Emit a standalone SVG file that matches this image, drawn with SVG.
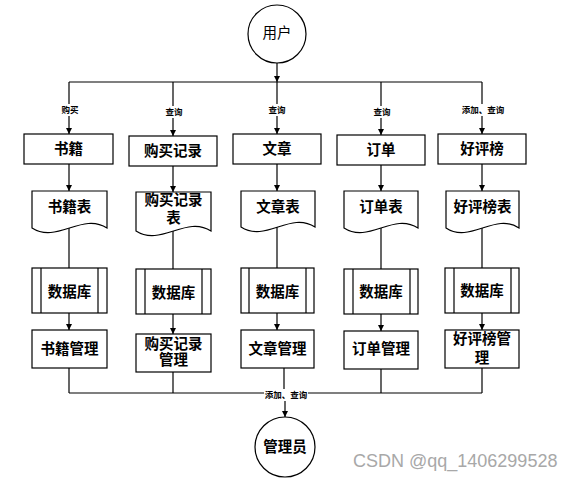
<svg xmlns="http://www.w3.org/2000/svg" width="579" height="480" viewBox="0 0 579 480">
<style>
.s{fill:#fff;stroke:#000;stroke-width:1.2}
.ln{fill:none;stroke:#000;stroke-width:1.2}
.t{font-family:"Liberation Sans","Noto Sans CJK SC",sans-serif;font-size:14.5px;font-weight:bold;fill:#000;text-anchor:middle;dominant-baseline:central}
.tn{font-weight:normal}
.lb{font-family:"Liberation Sans","Noto Sans CJK SC",sans-serif;font-size:8.5px;font-weight:bold;fill:#000;text-anchor:middle;dominant-baseline:central}
.bg{fill:#fff}
</style>
<defs>
<marker id="ah" markerUnits="userSpaceOnUse" markerWidth="7" markerHeight="7" refX="6" refY="3" orient="auto">
<path d="M0,0 L6,3 L0,6 Z" fill="#000"/>
</marker>
</defs>

<g id="connectors">
<!-- user to bus -->
<line class="ln" x1="277" y1="63" x2="277" y2="82" marker-end="url(#ah)"/>
<line class="ln" x1="69" y1="82" x2="482" y2="82"/>
<line class="ln" x1="69" y1="82" x2="69" y2="134" marker-end="url(#ah)"/>
<line class="ln" x1="173" y1="82" x2="173" y2="136" marker-end="url(#ah)"/>
<line class="ln" x1="277" y1="82" x2="277" y2="134" marker-end="url(#ah)"/>
<line class="ln" x1="381" y1="82" x2="381" y2="135" marker-end="url(#ah)"/>
<line class="ln" x1="482" y1="82" x2="482" y2="134" marker-end="url(#ah)"/>
<!-- box to doc -->
<line class="ln" x1="69" y1="164" x2="69" y2="191" marker-end="url(#ah)"/>
<line class="ln" x1="173" y1="166" x2="173" y2="192" marker-end="url(#ah)"/>
<line class="ln" x1="277" y1="164" x2="277" y2="191" marker-end="url(#ah)"/>
<line class="ln" x1="381" y1="165" x2="381" y2="191" marker-end="url(#ah)"/>
<line class="ln" x1="482" y1="164" x2="482" y2="191" marker-end="url(#ah)"/>
<!-- doc to db -->
<line class="ln" x1="69" y1="228" x2="69" y2="268"/>
<line class="ln" x1="173" y1="231" x2="173" y2="269"/>
<line class="ln" x1="277" y1="227" x2="277" y2="268"/>
<line class="ln" x1="381" y1="228" x2="381" y2="269"/>
<line class="ln" x1="482" y1="228" x2="482" y2="268"/>
<!-- db to mgmt -->
<line class="ln" x1="69" y1="313" x2="69" y2="330" marker-end="url(#ah)"/>
<line class="ln" x1="173" y1="314" x2="173" y2="334" marker-end="url(#ah)"/>
<line class="ln" x1="277" y1="313" x2="277" y2="330" marker-end="url(#ah)"/>
<line class="ln" x1="381" y1="314" x2="381" y2="331" marker-end="url(#ah)"/>
<line class="ln" x1="482" y1="313" x2="482" y2="330" marker-end="url(#ah)"/>
<!-- mgmt to bottom bus -->
<line class="ln" x1="69" y1="368" x2="69" y2="393"/>
<line class="ln" x1="173" y1="372" x2="173" y2="393"/>
<line class="ln" x1="284" y1="368" x2="284" y2="393"/>
<line class="ln" x1="381" y1="369" x2="381" y2="393"/>
<line class="ln" x1="482" y1="368" x2="482" y2="393"/>
<line class="ln" x1="69" y1="393" x2="482" y2="393"/>
<line class="ln" x1="285" y1="393" x2="285" y2="417" marker-end="url(#ah)"/>
<!-- labels -->
<rect class="bg" x="58" y="104" width="22" height="12"/>
<text class="lb" x="70" y="110">购买</text>
<rect class="bg" x="162" y="106" width="22" height="12"/>
<text class="lb" x="174" y="112">查询</text>
<rect class="bg" x="266" y="104" width="22" height="12"/>
<text class="lb" x="277" y="110">查询</text>
<rect class="bg" x="370" y="106" width="22" height="12"/>
<text class="lb" x="382" y="112">查询</text>
<rect class="bg" x="461" y="104" width="44" height="12"/>
<text class="lb" x="483" y="110">添加、查询</text>
<rect class="bg" x="264" y="389" width="44" height="12"/>
<text class="lb" x="286" y="395">添加、查询</text>
</g>

<g id="user">
<circle class="s" cx="277" cy="34" r="29"/>
<text class="t tn" x="277" y="33">用户</text>
</g>

<g id="admin">
<circle class="s" cx="285" cy="447" r="30"/>
<text class="t" x="285" y="447">管理员</text>
</g>

<g id="books">
<rect class="s" x="24" y="134" width="89" height="30"/>
<text class="t" x="68.5" y="149">书籍</text>
</g>
<g id="purchase">
<rect class="s" x="129" y="136" width="88" height="30"/>
<text class="t" x="173" y="151">购买记录</text>
</g>
<g id="article">
<rect class="s" x="233" y="134" width="88" height="30"/>
<text class="t" x="277" y="149">文章</text>
</g>
<g id="order">
<rect class="s" x="337" y="135" width="88" height="30"/>
<text class="t" x="381" y="150">订单</text>
</g>
<g id="rating">
<rect class="s" x="438" y="134" width="88" height="30"/>
<text class="t" x="482" y="149">好评榜</text>
</g>

<g id="books-table">
<path class="s" d="M32,191 H107 V228 C82,212 57,244 32,228 Z"/>
<text class="t" x="69.5" y="207">书籍表</text>
</g>
<g id="purchase-table">
<path class="s" d="M136,192 H211 V231 C186,215 161,247 136,231 Z"/>
<text class="t" x="173.5" y="200">购买记录</text>
<text class="t" x="173.5" y="218">表</text>
</g>
<g id="article-table">
<path class="s" d="M241,191 H315 V227 C290,211 266,243 241,227 Z"/>
<text class="t" x="278" y="207">文章表</text>
</g>
<g id="order-table">
<path class="s" d="M344,191 H418 V228 C393,212 369,244 344,228 Z"/>
<text class="t" x="381" y="207">订单表</text>
</g>
<g id="rating-table">
<path class="s" d="M446,191 H519 V228 C495,212 470,244 446,228 Z"/>
<text class="t" x="482.5" y="207">好评榜表</text>
</g>

<g id="db1">
<rect class="s" x="32" y="268" width="75" height="45"/>
<line class="ln" x1="41" y1="268" x2="41" y2="313"/>
<line class="ln" x1="98" y1="268" x2="98" y2="313"/>
<text class="t" x="69.5" y="292">数据库</text>
</g>
<g id="db2">
<rect class="s" x="136" y="269" width="75" height="45"/>
<line class="ln" x1="145" y1="269" x2="145" y2="314"/>
<line class="ln" x1="202" y1="269" x2="202" y2="314"/>
<text class="t" x="173.5" y="293">数据库</text>
</g>
<g id="db3">
<rect class="s" x="241" y="268" width="73" height="45"/>
<line class="ln" x1="249" y1="268" x2="249" y2="313"/>
<line class="ln" x1="306" y1="268" x2="306" y2="313"/>
<text class="t" x="277.5" y="292">数据库</text>
</g>
<g id="db4">
<rect class="s" x="344" y="269" width="74" height="45"/>
<line class="ln" x1="353" y1="269" x2="353" y2="314"/>
<line class="ln" x1="410" y1="269" x2="410" y2="314"/>
<text class="t" x="381" y="292">数据库</text>
</g>
<g id="db5">
<rect class="s" x="445" y="268" width="74" height="45"/>
<line class="ln" x1="454" y1="268" x2="454" y2="313"/>
<line class="ln" x1="511" y1="268" x2="511" y2="313"/>
<text class="t" x="482" y="291">数据库</text>
</g>

<g id="books-mgmt">
<rect class="s" x="32" y="330" width="75" height="38"/>
<text class="t" x="69.5" y="349">书籍管理</text>
</g>
<g id="purchase-mgmt">
<rect class="s" x="136" y="334" width="75" height="38"/>
<text class="t" x="173.5" y="344">购买记录</text>
<text class="t" x="173.5" y="360">管理</text>
</g>
<g id="article-mgmt">
<rect class="s" x="241" y="330" width="73" height="38"/>
<text class="t" x="277.5" y="349">文章管理</text>
</g>
<g id="order-mgmt">
<rect class="s" x="344" y="331" width="74" height="38"/>
<text class="t" x="381" y="349">订单管理</text>
</g>
<g id="rating-mgmt">
<rect class="s" x="445" y="330" width="74" height="38"/>
<text class="t" x="482" y="339">好评榜管</text>
<text class="t" x="482" y="358">理</text>
</g>

<text x="353" y="467" font-family="'Liberation Sans','Noto Sans',sans-serif" font-size="18" fill="#a8a8a8">CSDN @qq_1406299528</text>
</svg>
